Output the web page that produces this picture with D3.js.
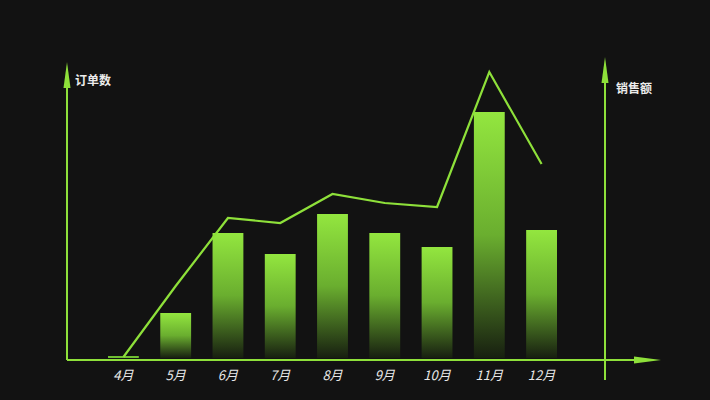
<!DOCTYPE html>
<html><head><meta charset="utf-8">
<script src="https://cdn.jsdelivr.net/npm/d3@7/dist/d3.min.js"></script>
<style>html,body{margin:0;padding:0;background:#121212;}svg{display:block;}</style>
</head><body>
<svg id="c" width="710" height="400"></svg>
<script>
const months = ["4月","5月","6月","7月","8月","9月","10月","11月","12月"];
const orders = [40, 470, 1270, 1060, 1460, 1270, 1130, 2480, 1300];
const sales = [300, 7400, 14200, 13700, 16600, 15700, 15300, 28800, 19600];
const leftTitle = "订单数";
const rightTitle = "销售额";

const svg = d3.select("#c");
const green = "#8ee03a";
svg.append("rect").attr("width",710).attr("height",400).attr("fill","#121212");

const x = d3.scaleBand().domain(months).range([108, 557]).paddingInner(0.41).paddingOuter(0);
const yL = d3.scaleLinear().domain([0, 3000]).range([360, 60]);
const yR = d3.scaleLinear().domain([0, 30000]).range([360, 60]);

const defs = svg.append("defs");
const g = defs.append("linearGradient").attr("id","bg").attr("x1",0).attr("y1",0).attr("x2",0).attr("y2",1);
g.append("stop").attr("offset","0%").attr("stop-color","#93e63f");
g.append("stop").attr("offset","50%").attr("stop-color","#6aae2f");
g.append("stop").attr("offset","100%").attr("stop-color","#171f10");

// bars
svg.append("g").selectAll("rect").data(orders).join("rect")
  .attr("x",(d,i)=>x(months[i]))
  .attr("width",x.bandwidth())
  .attr("y",d=>yL(d))
  .attr("height",d=>Math.max(0, 358 - yL(d)))
  .attr("fill",(d)=> d < 100 ? "#6fbf32" : "url(#bg)");

// line
const line = d3.line().x((d,i)=>x(months[i]) + x.bandwidth()/2).y(d=>yR(d));
svg.append("path").datum(sales).attr("d",line).attr("fill","none")
  .attr("stroke",green).attr("stroke-width",2.2).attr("stroke-linejoin","miter");

// axes
const ax = svg.append("g").attr("stroke",green).attr("stroke-width",2).attr("fill","none");
ax.append("line").attr("x1",67).attr("y1",360).attr("x2",67).attr("y2",82);
ax.append("line").attr("x1",67).attr("y1",360).attr("x2",640).attr("y2",360);
ax.append("line").attr("x1",605).attr("y1",380).attr("x2",605).attr("y2",80);
const ah = svg.append("g").attr("fill",green);
ah.append("path").attr("d","M67,62 L63.5,88 L70.5,88 Z");
ah.append("path").attr("d","M605,57 L601.5,83 L608.5,83 Z");
ah.append("path").attr("d","M661,360 L634,356.5 L634,363.5 Z");

// x labels
svg.append("g").selectAll("text").data(months).join("text")
  .attr("x",d=>x(d)+x.bandwidth()/2)
  .attr("y",380)
  .attr("text-anchor","middle")
  .attr("fill","#e8e8e8")
  .attr("font-family","'Noto Sans CJK SC', 'Noto Sans', sans-serif")
  .attr("font-size",13)
  .attr("font-style","italic")
  .text(d=>d);

svg.append("text").attr("x",75).attr("y",85).attr("fill","#ececec")
  .attr("font-family","'Noto Sans CJK SC', sans-serif").attr("font-size",12).attr("font-weight","bold").text(leftTitle);
svg.append("text").attr("x",616).attr("y",93).attr("fill","#ececec")
  .attr("font-family","'Noto Sans CJK SC', sans-serif").attr("font-size",12).attr("font-weight","bold").text(rightTitle);
</script>
</body></html>
